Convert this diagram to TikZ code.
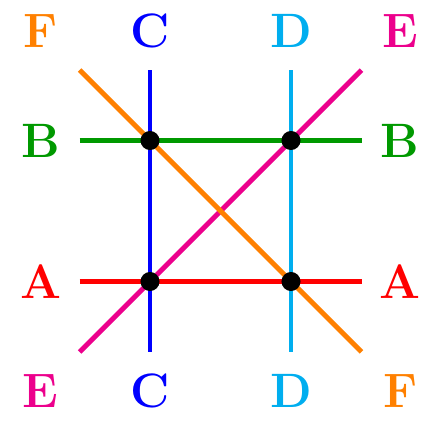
\documentclass[tikz,border=0pt]{standalone}
\usepackage{xcolor}
\usepackage{tikz}
\usetikzlibrary{calc}
\definecolor{cA}{HTML}{FF0000}
\definecolor{cB}{HTML}{009900}
\definecolor{cC}{HTML}{0000FF}
\definecolor{cD}{HTML}{00AEEF}
\definecolor{cE}{HTML}{EC008C}
\definecolor{cF}{HTML}{FF8000}
\def\labpos{2.55}

\begin{document}
\begin{tikzpicture}[line width=2pt]
  \tikzstyle{letter}=[inner sep=0pt, font=\fontsize{19.5}{22}\selectfont\bfseries]
  \tikzstyle{dot}=[circle, fill=black, minimum size=0.27cm, inner sep=0pt]
  \useasboundingbox (-3.128,-3.021) rectangle (3.142,2.993);

  % Draw the end points of the lines
  \foreach \name / \x / \y in {A1/-2/-1, A2/2/-1, B1/-2/1, B2/2/1,
                               C1/-1/-2, C2/-1/2, D1/1/-2, D2/1/2,
                               E1/-2/-2, E2/2/2, F1/-2/2, F2/2/-2}
    \coordinate (\name) at (\x,\y);

  % Draw the lines
  \foreach \name in {A,B,C,D,E,F}
    \draw[c\name] (\name1) -- (\name2);

  % Draw the crossing dots
  \foreach \name / \x / \y in {BC/-1/1, BD/1/1, AC/-1/-1, AD/1/-1}
    \node[dot] (dot-\name) at (\x,\y) {};

  % Annotate with letters
  \node[letter, cF] (lab-F1) at (-\labpos,\labpos) {F};
  \node[letter, cC] (lab-C1) at (-1,\labpos) {C};
  \node[letter, cD] (lab-D1) at (1,\labpos) {D};
  \node[letter, cE] (lab-E1) at (\labpos,\labpos) {E};
  \node[letter, cB] (lab-B1) at (-\labpos,1) {B};
  \node[letter, cB] (lab-B2) at (\labpos,1) {B};
  \node[letter, cA] (lab-A1) at (-\labpos,-1) {A};
  \node[letter, cA] (lab-A2) at (\labpos,-1) {A};
  \node[letter, cE] (lab-E2) at (-\labpos,-\labpos) {E};
  \node[letter, cC] (lab-C2) at (-1,-\labpos) {C};
  \node[letter, cD] (lab-D2) at (1,-\labpos) {D};
  \node[letter, cF] (lab-F2) at (\labpos,-\labpos) {F};
\end{tikzpicture}
\end{document}
